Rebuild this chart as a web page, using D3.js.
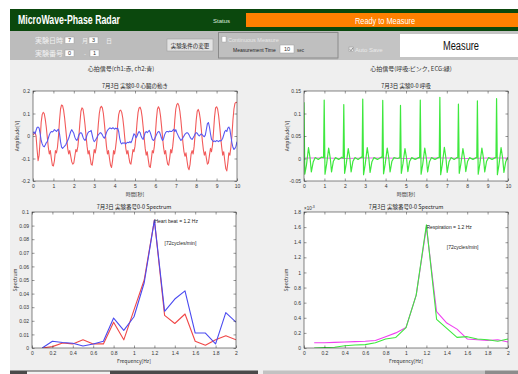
<!DOCTYPE html>
<html>
<head>
<meta charset="utf-8">
<script src="https://cdn.jsdelivr.net/npm/d3@7"></script>
<style>
  body { margin: 0; background: #fff; }
  text { font-family: "Liberation Sans", Arial, sans-serif; }
  .jp { font-family: "Noto Sans CJK JP", sans-serif; }
</style>
</head>
<body>
<script>
// ---- data ----
var sampleStep = 0.05; // seconds between samples of the heart signals
var redV = [0.005,0.01,0.015,0.0,-0.06,-0.11,-0.085,-0.02,0.06,0.095,0.105,
  0.1,0.075,0.04,-0.005,-0.05,-0.08,-0.065,-0.1,-0.13,-0.133,-0.11,-0.065,-0.075,-0.05,0.0,0.07,0.12,0.138,
  0.135,0.115,0.08,0.035,-0.01,-0.055,-0.08,-0.065,-0.09,-0.115,-0.125,-0.12,-0.09,-0.06,-0.07,-0.045,0.0,0.06,0.11,0.125,
  0.12,0.09,0.05,0.0,-0.045,-0.08,-0.065,-0.095,-0.125,-0.13,-0.1,-0.06,-0.075,-0.05,-0.01,0.05,0.1,0.125,0.132,
  0.125,0.1,0.055,0.005,-0.045,-0.08,-0.065,-0.1,-0.13,-0.14,-0.11,-0.065,-0.08,-0.05,-0.01,0.05,0.095,0.112,0.115,
  0.105,0.08,0.04,-0.01,-0.055,-0.08,-0.065,-0.095,-0.12,-0.125,-0.095,-0.06,-0.07,-0.045,0.0,0.06,0.105,0.125,0.128,
  0.115,0.085,0.04,-0.01,-0.055,-0.085,-0.07,-0.105,-0.135,-0.14,-0.105,-0.065,-0.075,-0.045,0.01,0.075,0.12,0.13,
  0.12,0.09,0.045,-0.005,-0.05,-0.08,-0.065,-0.1,-0.125,-0.13,-0.1,-0.06,-0.075,-0.045,0.0,0.07,0.12,0.14,0.145,
  0.135,0.11,0.07,0.02,-0.03,-0.07,-0.09,-0.075,-0.11,-0.14,-0.15,-0.125,-0.08,-0.065,-0.08,-0.045,0.01,0.07,0.11,0.118,
  0.105,0.075,0.03,-0.02,-0.06,-0.085,-0.07,-0.1,-0.125,-0.12,-0.085,-0.055,-0.07,-0.04,0.02,0.085,0.125,0.13,
  0.12,0.09,0.045,-0.005,-0.05,-0.085,-0.07,-0.11,-0.145,-0.155,-0.12,-0.075,-0.085,-0.05,0.0,0.07,0.12,0.145,0.15,
  0.148];
var blueV = [0.012,0.018,0.01,0.025,0.038,0.04,0.035,0.01,-0.02,-0.035,-0.045,-0.048,-0.04,-0.03,-0.025,-0.01,0.005,0.015,0.02,0.018,
  0.022,0.028,0.025,0.02,0.026,0.03,0.01,-0.025,-0.05,-0.055,-0.05,-0.045,-0.04,-0.03,-0.02,-0.01,0.005,0.02,0.028,0.02,
  0.012,-0.005,-0.015,-0.02,-0.01,0.005,0.012,0.015,0.01,-0.005,-0.015,-0.02,-0.01,0.005,0.015,0.02,0.02,0.025,0.005,-0.015,
  -0.025,-0.02,-0.012,-0.005,0.005,0.01,0.015,0.012,0.005,-0.005,-0.01,0.0,0.015,0.025,0.03,0.035,0.035,0.032,0.036,0.035,
  0.03,0.035,0.032,0.035,0.02,-0.01,-0.03,-0.035,-0.03,-0.032,-0.03,-0.035,-0.03,-0.028,-0.03,-0.025,-0.03,-0.02,-0.005,0.01,
  0.005,-0.008,0.0,0.012,0.02,0.015,0.0,-0.01,-0.015,0.0,0.015,0.02,0.015,0.02,0.025,0.015,0.0,-0.015,-0.02,-0.015,
  -0.005,0.005,0.015,0.02,0.018,0.005,-0.01,-0.02,-0.012,0.005,0.015,0.02,0.02,0.018,0.022,0.02,0.02,0.025,0.03,0.02,
  0.028,0.015,0.005,-0.005,-0.012,-0.02,-0.015,-0.008,0.0,0.008,0.012,0.015,0.012,0.005,-0.005,-0.012,-0.015,-0.008,0.0,0.01,
  0.015,0.012,0.005,0.0,0.005,0.01,0.005,0.0,-0.003,0.005,0.03,0.055,0.06,0.04,0.01,-0.015,-0.02,-0.025,-0.022,-0.025,
  -0.02,-0.022,-0.025,-0.02,-0.022,-0.018,-0.01,0.005,0.02,0.025,0.02,0.035,0.04,0.03,0.0,-0.03,-0.05,-0.06,-0.055,-0.045,
  -0.025];
// ECG-like signal, [time s, value V]
var greenPts = [[0,0.125],[0.04,-0.035],[0.12,-0.015],[0.22,0.024],[0.3,0.0],[0.36,-0.03],[0.45,-0.008],[0.55,0.002],[0.7,-0.002],[0.85,0.003],
  [0.96,0.002],[0.99,0.13],[1.03,-0.035],[1.11,-0.012],[1.21,0.023],[1.29,0.0],[1.35,-0.03],[1.44,-0.006],[1.54,0.002],[1.7,-0.002],[1.85,0.003],
  [1.92,0.001],[1.95,0.12],[1.99,-0.033],[2.07,-0.012],[2.17,0.022],[2.25,0.0],[2.31,-0.03],[2.4,-0.006],[2.5,0.002],[2.65,-0.002],[2.8,0.003],
  [2.85,0.002],[2.88,0.132],[2.92,-0.036],[3.0,-0.013],[3.1,0.024],[3.18,0.0],[3.24,-0.031],[3.33,-0.007],[3.43,0.002],[3.6,-0.002],[3.78,0.003],
  [3.83,0.002],[3.86,0.129],[3.9,-0.034],[3.98,-0.012],[4.08,0.023],[4.16,0.0],[4.22,-0.03],[4.31,-0.006],[4.41,0.002],[4.58,0.0],
  [4.7,0.002],[4.73,0.118],[4.77,-0.033],[4.85,-0.012],[4.95,0.022],[5.03,0.0],[5.09,-0.029],[5.18,-0.006],[5.28,0.002],[5.45,-0.002],[5.62,0.002],
  [5.67,0.002],[5.7,0.13],[5.74,-0.035],[5.82,-0.013],[5.92,0.023],[6.0,0.0],[6.06,-0.03],[6.15,-0.007],[6.25,0.002],[6.42,-0.002],[6.58,0.002],
  [6.63,0.002],[6.66,0.136],[6.7,-0.036],[6.78,-0.013],[6.88,0.025],[6.96,0.0],[7.02,-0.031],[7.11,-0.007],[7.21,0.002],[7.36,-0.002],[7.5,0.002],
  [7.54,0.002],[7.57,0.121],[7.61,-0.033],[7.69,-0.012],[7.79,0.022],[7.87,0.0],[7.93,-0.029],[8.02,-0.006],[8.12,0.002],[8.28,-0.002],[8.44,0.002],
  [8.47,0.002],[8.5,0.128],[8.54,-0.035],[8.62,-0.012],[8.72,0.023],[8.8,0.0],[8.86,-0.03],[8.95,-0.006],[9.05,0.002],[9.22,-0.002],[9.38,0.002],
  [9.41,0.002],[9.44,0.133],[9.48,-0.036],[9.56,-0.013],[9.66,0.024],[9.74,0.0],[9.8,-0.031],[9.89,-0.007],[9.99,0.002],[10,0.0]];
var pinkPts = [[0,0.001],[1,0.001],[2,0.0],[3,0.001],[4,0.001],[5,0.0],[6,0.001],[7,0.001],[8,0.0],[9,0.001],[10,0.001]];

var freqs = [0.1,0.2,0.3,0.4,0.5,0.6,0.7,0.8,0.9,1.0,1.1,1.2,1.3,1.4,1.5,1.6,1.7,1.8,1.9,2.0];
var heartRed  = [0,0.001,0.0037,0.003,0.006,0.003,0.003,0.019,0.006,0.028,0.05,0.094,0.024,0.018,0.025,0.005,0.002,0.006,0.009,0.006];
var heartBlue = [0,0.005,0.004,0.0035,0.0015,0.003,0.005,0.022,0.013,0.023,0.048,0.094,0.027,0.036,0.042,0.011,0.011,0.003,0.026,0.019];
// respiration spectrum, in units of 1e-3
var respPink  = [0.07,0.07,0.075,0.08,0.085,0.09,0.1,0.15,0.2,0.27,0.7,1.6,0.48,0.33,0.25,0.12,0.11,0.1,0.11,0.08];
var respGreen = [0.0,0.005,0.01,0.03,0.04,0.045,0.07,0.12,0.14,0.27,0.7,1.63,0.38,0.26,0.14,0.15,0.12,0.11,0.09,0.12];

var timeTicks = [0,1,2,3,4,5,6,7,8,9,10];
var heartAmpTicks = [-0.2,-0.1,0,0.1,0.2];
var respAmpTicks = [-0.05,0,0.05,0.1,0.15];
var freqTicks = [0,0.2,0.4,0.6,0.8,1,1.2,1.4,1.6,1.8,2];
var heartSpecTicks = [0,0.01,0.02,0.03,0.04,0.05,0.06,0.07,0.08,0.09,0.1];
var respSpecTicks = [0,0.2,0.4,0.6,0.8,1,1.2,1.4,1.6,1.8];

var width = 518, height = 374;
var svg = d3.select("body").append("svg").attr("width", width).attr("height", height);

// ---- window frame ----
svg.append("rect").attr("x", 10).attr("y", 9).attr("width", 508).attr("height", 365).attr("fill", "#efefef");
svg.append("rect").attr("x", 10).attr("y", 9).attr("width", 508).attr("height", 22).attr("fill", "#0b480d");
svg.append("text").attr("x", 18).attr("y", 24).attr("fill", "#fff").attr("font-size", 12).attr("font-weight", "bold")
    .attr("textLength", 102).attr("lengthAdjust", "spacingAndGlyphs").text("MicroWave-Phase Radar");
svg.append("text").attr("x", 213).attr("y", 23).attr("fill", "#dfe8df").attr("font-size", 6).text("Status");
svg.append("rect").attr("x", 246).attr("y", 13).attr("width", 272).attr("height", 14).attr("fill", "#ff8000");
svg.append("text").attr("x", 385).attr("y", 23.5).attr("fill", "#fff").attr("font-size", 9).attr("text-anchor", "middle")
    .attr("textLength", 60).attr("lengthAdjust", "spacingAndGlyphs").text("Ready to Measure");

// control panel
svg.append("rect").attr("x", 10).attr("y", 31).attr("width", 508).attr("height", 29).attr("fill", "#bcbcbc");
svg.append("rect").attr("x", 338).attr("y", 31).attr("width", 180).attr("height", 29).attr("fill", "#c4c4c4");

function inputBox(x, y, w, h, label) {
    svg.append("rect").attr("x", x).attr("y", y).attr("width", w).attr("height", h)
        .attr("fill", "#fff").attr("stroke", "#9a9a9a").attr("stroke-width", 0.5);
    svg.append("text").attr("x", x + w / 2).attr("y", y + h / 2 + 2).attr("text-anchor", "middle")
        .attr("font-size", 5.5).attr("fill", "#333").text(label);
}
function panelText(x, y, s, size, color, cls) {
    return svg.append("text").attr("x", x).attr("y", y).attr("font-size", size).attr("fill", color)
        .attr("class", cls || null).text(s);
}
panelText(35, 43, "実験日時", 7, "#f2f2f2", "jp");
inputBox(65, 37, 9, 6.5, "7");
panelText(82, 43, "月", 6, "#f2f2f2", "jp");
inputBox(89, 37, 9, 6.5, "3");
panelText(106, 43, "日", 6, "#f2f2f2", "jp");
panelText(35, 56, "実験番号", 7, "#f2f2f2", "jp");
inputBox(65, 50, 9, 6.5, "0");
panelText(84, 56, "-", 6, "#f2f2f2");
inputBox(90, 50, 9, 6.5, "1");

svg.append("rect").attr("x", 167).attr("y", 39).attr("width", 46).attr("height", 12)
    .attr("fill", "#e3e3e3").attr("stroke", "#a0a0a0").attr("stroke-width", 0.6);
panelText(190, 47.5, "実験条件の変更", 5.5, "#222", "jp").attr("text-anchor", "middle");

svg.append("rect").attr("x", 218.5).attr("y", 32.5).attr("width", 119.5).attr("height", 25.5)
    .attr("fill", "#bfbfbf").attr("stroke", "#8a8a8a").attr("stroke-width", 1);
svg.append("rect").attr("x", 222).attr("y", 36.5).attr("width", 4).attr("height", 5.5).attr("fill", "#fff").attr("stroke", "#999").attr("stroke-width", 0.4);
panelText(228, 41.5, "Continuous Measure", 5.5, "#e8e8e8");
panelText(233, 51.5, "Measurement Time", 5, "#222");
inputBox(280, 45, 14, 8, "10");
panelText(297, 51.5, "sec", 4.5, "#333");

svg.append("rect").attr("x", 349).attr("y", 47).attr("width", 4.5).attr("height", 4.5).attr("fill", "#e8e8e8").attr("stroke", "#888").attr("stroke-width", 0.4);
svg.append("path").attr("d", "M349.8,49.3 L351,50.8 L353,47.8").attr("fill", "none").attr("stroke", "#555").attr("stroke-width", 0.6);
panelText(355, 51.5, "Auto Save", 6, "#eaeaea");

svg.append("rect").attr("x", 400).attr("y", 34).attr("width", 118).attr("height", 23).attr("fill", "#fff");
svg.append("text").attr("x", 461).attr("y", 50).attr("font-size", 12).attr("text-anchor", "middle").attr("fill", "#111")
    .attr("textLength", 36).attr("lengthAdjust", "spacingAndGlyphs").text("Measure");

// section headings
panelText(121, 71, "心拍信号(ch1:赤, ch2:青)", 6, "#333", "jp").attr("text-anchor", "middle");
panelText(411, 71, "心拍信号(呼吸:ピンク, ECG:緑)", 6, "#333", "jp").attr("text-anchor", "middle");

// bottom strip
svg.append("rect").attr("x", 10).attr("y", 370.5).attr("width", 248).attr("height", 3.5).attr("fill", "#4a4a4a");
svg.append("rect").attr("x", 27).attr("y", 371.5).attr("width", 83).attr("height", 2.5).attr("fill", "#f2f2f2");
svg.append("rect").attr("x", 263).attr("y", 370.5).attr("width", 222).attr("height", 3.5).attr("fill", "#c2c2c2");
svg.append("rect").attr("x", 485).attr("y", 370.5).attr("width", 33).attr("height", 3.5).attr("fill", "#8c8c8c");

// ---- MATLAB style plot ----
function fmt(d) { return String(+d.toFixed(3)); }

function plot(cfg) {
    var g = svg.append("g").attr("transform", "translate(" + cfg.x + "," + cfg.y + ")");
    var xScale = d3.scaleLinear().domain(cfg.xDomain).range([0, cfg.w]);
    var yScale = d3.scaleLinear().domain(cfg.yDomain).range([cfg.h, 0]);

    g.append("rect").attr("width", cfg.w).attr("height", cfg.h).attr("fill", "#fff");

    var clipId = "clip" + cfg.id;
    g.append("clipPath").attr("id", clipId).append("rect").attr("width", cfg.w).attr("height", cfg.h);

    var line = d3.line()
        .x(function(d) { return xScale(d[0]); })
        .y(function(d) { return yScale(d[1]); });

    cfg.series.forEach(function(s) {
        g.append("path").datum(s.data)
            .attr("clip-path", "url(#" + clipId + ")")
            .attr("d", line)
            .attr("fill", "none")
            .attr("stroke", s.color)
            .attr("stroke-width", s.width || 1.1)
            .attr("stroke-linejoin", "round");
    });

    // axes with inward ticks on all four sides
    var tk = 2.5;
    var bottom = g.append("g").attr("transform", "translate(0," + cfg.h + ")")
        .call(d3.axisBottom(xScale).tickValues(cfg.xTicks).tickSizeInner(-tk).tickSizeOuter(0).tickPadding(3.5).tickFormat(fmt));
    var left = g.append("g")
        .call(d3.axisLeft(yScale).tickValues(cfg.yTicks).tickSizeInner(-tk).tickSizeOuter(0).tickPadding(3).tickFormat(fmt));
    var top = g.append("g")
        .call(d3.axisTop(xScale).tickValues(cfg.xTicks).tickSizeInner(-tk).tickSizeOuter(0).tickFormat(""));
    var right = g.append("g").attr("transform", "translate(" + cfg.w + ",0)")
        .call(d3.axisRight(yScale).tickValues(cfg.yTicks).tickSizeInner(-tk).tickSizeOuter(0).tickFormat(""));
    [bottom, left, top, right].forEach(function(a) {
        a.attr("font-size", 5).attr("font-family", "Liberation Sans, Arial, sans-serif");
        a.select(".domain").remove();
        a.selectAll("line").attr("stroke", "#333").attr("stroke-width", 0.5);
        a.selectAll("text").attr("fill", "#333");
    });

    g.append("rect").attr("width", cfg.w).attr("height", cfg.h)
        .attr("fill", "none").attr("stroke", "#333").attr("stroke-width", 0.6);

    // title and labels
    g.append("text").attr("class", "jp").attr("x", cfg.w / 2).attr("y", -3)
        .attr("text-anchor", "middle").attr("font-size", 5.5).attr("fill", "#222").text(cfg.title);
    g.append("text").attr("class", "jp").attr("x", cfg.w / 2).attr("y", cfg.h + 15)
        .attr("text-anchor", "middle").attr("font-size", 5).attr("fill", "#333").text(cfg.xLabel);
    g.append("text").attr("class", "jp")
        .attr("transform", "translate(" + (-cfg.yLabelOff) + "," + (cfg.h / 2) + ") rotate(-90)")
        .attr("text-anchor", "middle").attr("font-size", 5).attr("fill", "#333").text(cfg.yLabel);

    if (cfg.exponent) {
        g.append("text").attr("x", 0).attr("y", -2).attr("font-size", 4.5).attr("fill", "#333")
            .text("×10").append("tspan").attr("dy", -2).attr("font-size", 3.5).text(cfg.exponent);
    }
    (cfg.notes || []).forEach(function(n) {
        g.append("text").attr("x", xScale(n.at[0])).attr("y", yScale(n.at[1]))
            .attr("dy", "0.35em").attr("font-size", 5).attr("fill", "#222").text(n.text);
    });
}

function pairs(xs, ys) {
    return xs.map(function(x, i) { return [x, ys[i]]; });
}
var redPts = redV.map(function(v, i) { return [i * sampleStep, v]; });
var bluePts = blueV.map(function(v, i) { return [i * sampleStep, v]; });

plot({ id: 1, x: 33, y: 91, w: 204, h: 90,
    xDomain: [0, 10], yDomain: [-0.2, 0.2], xTicks: timeTicks, yTicks: heartAmpTicks,
    title: "7月3日 実験0-0 心臓の動き", xLabel: "時間[秒]", yLabel: "Amplitude[V]", yLabelOff: 14,
    series: [{ data: redPts, color: "#f25a5a" }, { data: bluePts, color: "#5858f2" }] });

plot({ id: 2, x: 304, y: 91, w: 204, h: 90,
    xDomain: [0, 10], yDomain: [-0.05, 0.15], xTicks: timeTicks, yTicks: respAmpTicks,
    title: "7月3日 実験0-0 呼吸", xLabel: "時間[秒]", yLabel: "Amplitude[V]", yLabelOff: 15,
    series: [{ data: pinkPts, color: "#f060f0" }, { data: greenPts, color: "#3ee83e", width: 1.2 }] });

plot({ id: 3, x: 32, y: 212, w: 204, h: 136,
    xDomain: [0, 2], yDomain: [0, 0.1], xTicks: freqTicks, yTicks: heartSpecTicks,
    title: "7月3日 実験番号0-0 Spectrum", xLabel: "Frequency[Hz]", yLabel: "Spectrum", yLabelOff: 15,
    series: [{ data: pairs(freqs, heartRed), color: "#f04848" }, { data: pairs(freqs, heartBlue), color: "#4a4af0" }],
    notes: [{ at: [1.2, 0.093], text: "Heart beat = 1.2 Hz" }, { at: [1.3, 0.077], text: "[72cycles/min]" }] });

plot({ id: 4, x: 304, y: 212, w: 204, h: 136,
    xDomain: [0, 2], yDomain: [0, 1.8], xTicks: freqTicks, yTicks: respSpecTicks,
    title: "7月3日 実験番号0-0 Spectrum", xLabel: "Frequency[Hz]", yLabel: "Spectrum", yLabelOff: 16,
    exponent: "-3",
    series: [{ data: pairs(freqs, respPink), color: "#f040f0" }, { data: pairs(freqs, respGreen), color: "#3ee83e" }],
    notes: [{ at: [1.2, 1.6], text: "Respiration = 1.2 Hz" }, { at: [1.4, 1.34], text: "[72cycles/min]" }] });
</script>
</body>
</html>
